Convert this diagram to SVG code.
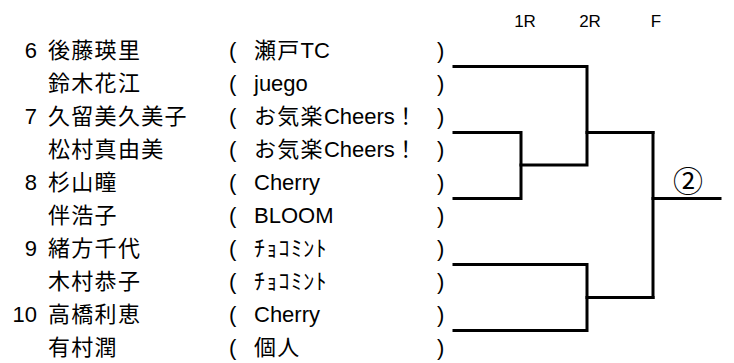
<svg xmlns="http://www.w3.org/2000/svg" width="734" height="363" viewBox="0 0 734 363">
<style>
  text { font-family: "Liberation Sans", "Noto Sans CJK JP", sans-serif; fill: #000; font-size: 22px; }
  .nm { letter-spacing: 1.3px; }
  .cj { letter-spacing: 1.3px; }
  .num { text-anchor: end; }
  .hdr { font-size: 17px; text-anchor: middle; }
  .conn { fill: none; stroke: #000; stroke-width: 3; stroke-linecap: square; stroke-linejoin: miter; }
</style>
<rect width="734" height="363" fill="#fff"/>
<g id="header">
  <text class="hdr" x="525" y="27">1R</text>
  <text class="hdr" x="590" y="27">2R</text>
  <text class="hdr" x="656" y="27">F</text>
</g>
<g id="p1">
  <text class="num" x="37" y="58">6</text>
  <text class="nm" x="48" y="58">後藤瑛里</text>
  <text x="229" y="58">(</text>
  <text x="254" y="58"><tspan class="cj">瀬戸</tspan>TC</text>
  <text x="437" y="58">)</text>
</g>
<g id="p2">
  <text class="nm" x="48" y="91">鈴木花江</text>
  <text x="229" y="91">(</text>
  <text x="254" y="91">juego</text>
  <text x="437" y="91">)</text>
</g>
<g id="p3">
  <text class="num" x="37" y="124">7</text>
  <text class="nm" x="48" y="124">久留美久美子</text>
  <text x="229" y="124">(</text>
  <text x="254" y="124"><tspan class="cj">お気楽</tspan>Cheers！</text>
  <text x="437" y="124">)</text>
</g>
<g id="p4">
  <text class="nm" x="48" y="157">松村真由美</text>
  <text x="229" y="157">(</text>
  <text x="254" y="157"><tspan class="cj">お気楽</tspan>Cheers！</text>
  <text x="437" y="157">)</text>
</g>
<g id="p5">
  <text class="num" x="37" y="190">8</text>
  <text class="nm" x="48" y="190">杉山瞳</text>
  <text x="229" y="190">(</text>
  <text x="254" y="190">Cherry</text>
  <text x="437" y="190">)</text>
</g>
<g id="p6">
  <text class="nm" x="48" y="223">伴浩子</text>
  <text x="229" y="223">(</text>
  <text x="254" y="223">BLOOM</text>
  <text x="437" y="223">)</text>
</g>
<g id="p7">
  <text class="num" x="37" y="256">9</text>
  <text class="nm" x="48" y="256">緒方千代</text>
  <text x="229" y="256">(</text>
  <text class="cj" x="254" y="256">ﾁｮｺﾐﾝﾄ</text>
  <text x="437" y="256">)</text>
</g>
<g id="p8">
  <text class="nm" x="48" y="289">木村恭子</text>
  <text x="229" y="289">(</text>
  <text class="cj" x="254" y="289">ﾁｮｺﾐﾝﾄ</text>
  <text x="437" y="289">)</text>
</g>
<g id="p9">
  <text class="num" x="37" y="322">10</text>
  <text class="nm" x="48" y="322">高橋利恵</text>
  <text x="229" y="322">(</text>
  <text x="254" y="322">Cherry</text>
  <text x="437" y="322">)</text>
</g>
<g id="p10">
  <text class="nm" x="48" y="355">有村潤</text>
  <text x="229" y="355">(</text>
  <text class="cj" x="254" y="355">個人</text>
  <text x="437" y="355">)</text>
</g>
<g id="connectors">
  <path class="conn" d="M454 66.5 H587 V165 H521"/>
  <path class="conn" d="M454 132.5 H521 V198.5 H454"/>
  <path class="conn" d="M587 132.5 H653"/>
  <path class="conn" d="M454 264.5 H587 V330.5 H454"/>
  <path class="conn" d="M587 297.5 H653"/>
  <path class="conn" d="M653 132.5 V297.5"/>
  <path class="conn" d="M653 198.5 H720"/>
</g>
<g id="result">
  <text x="688" y="192" font-family="Noto Sans CJK JP, sans-serif" style="font-family: 'Noto Sans CJK JP', sans-serif; font-size: 30px;" text-anchor="middle">②</text>
</g>
</svg>
